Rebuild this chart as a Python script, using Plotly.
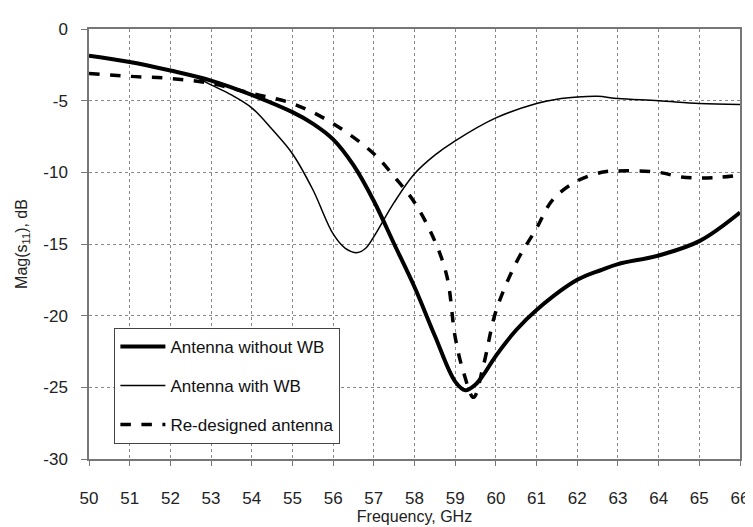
import plotly.graph_objects as go

# Antenna without WB (thick solid)
freq_a = [50, 51, 52, 53, 54, 55, 55.5, 56, 56.5, 57, 57.5, 58, 58.5, 59, 59.25, 59.5, 59.7, 60, 60.5, 61, 62, 62.6, 63, 64, 65, 66]
s11_a = [-1.86, -2.3, -2.9, -3.6, -4.6, -5.8, -6.6, -7.7, -9.5, -12.0, -15.0, -18.0, -21.4, -24.6, -25.2, -24.8, -24.1, -22.8, -21.0, -19.6, -17.5, -16.8, -16.4, -15.8, -14.8, -12.8]

# Antenna with WB (thin)
freq_b = [50, 51, 52, 52.5, 53, 53.5, 54, 54.5, 55, 55.5, 56, 56.3, 56.6, 56.8, 57, 57.5, 58, 58.5, 59, 60, 61, 61.5, 62, 62.5, 63, 64, 65, 66]
s11_b = [-1.86, -2.3, -2.9, -3.2, -3.9, -4.6, -5.5, -7.0, -8.7, -11.2, -14.3, -15.3, -15.6, -15.3, -14.5, -12.1, -10.1, -8.8, -7.8, -6.2, -5.2, -4.9, -4.75, -4.7, -4.85, -5.0, -5.2, -5.27]

# Re-designed antenna (dashed)
freq_c = [50, 51, 52, 53, 54, 55, 56, 57, 57.5, 58, 58.5, 58.8, 59, 59.2, 59.45, 59.7, 60, 60.5, 61, 61.4, 62, 62.6, 63, 64, 64.5, 65, 65.5, 66]
s11_c = [-3.1, -3.3, -3.45, -3.8, -4.5, -5.2, -6.6, -8.7, -10.3, -12.1, -14.8, -17.3, -21.5, -23.9, -25.7, -23.4, -19.7, -16.3, -13.9, -11.9, -10.6, -10.0, -9.9, -10.0, -10.3, -10.4, -10.35, -10.2]

x_ticks = list(range(50, 67))
y_ticks = [0, -5, -10, -15, -20, -25, -30]

font = "Liberation Sans, Arial, sans-serif"

fig = go.Figure()
fig.add_trace(go.Scatter(x=freq_a, y=s11_a, mode="lines", name="Antenna without WB",
                         legendgroup="a",
                         line=dict(color="black", width=4, shape="spline")))
fig.add_trace(go.Scatter(x=freq_b, y=s11_b, mode="lines", name="Antenna with WB",
                         legendgroup="b",
                         line=dict(color="black", width=1.5, shape="spline")))
fig.add_trace(go.Scatter(x=freq_c, y=s11_c, mode="lines", name="Re-designed antenna",
                         legendgroup="c",
                         line=dict(color="black", width=3.5, dash="dash", shape="spline")))

fig.update_layout(
    width=753, height=527,
    margin=dict(l=81, r=13, t=16, b=71),
    paper_bgcolor="white", plot_bgcolor="white",
    font=dict(family=font, size=17, color="#222"),
    showlegend=True,
    legend=dict(x=0.039, y=0.305, xanchor="left", yanchor="top",
                bgcolor="white", bordercolor="#444", borderwidth=1,
                font=dict(size=17, color="#111"), tracegroupgap=14,
                itemwidth=45),
    xaxis=dict(range=[50, 66], tickvals=x_ticks, ticktext=[str(v) for v in x_ticks],
               showgrid=True, gridcolor="#888", griddash="dot", gridwidth=1,
               showline=True, linecolor="#777", linewidth=1.5, mirror=True,
               ticks="outside", ticklen=5, tickcolor="#777", ticklabelstandoff=18,
               zeroline=False,
               title=dict(text="Frequency, GHz", font=dict(size=16), standoff=4)),
    yaxis=dict(range=[-30, 0], tickvals=y_ticks, ticktext=[str(v) for v in y_ticks],
               showgrid=True, gridcolor="#888", griddash="dot", gridwidth=1,
               showline=True, linecolor="#777", linewidth=1.5, mirror=True,
               ticks="outside", ticklen=6, tickcolor="#777", ticklabelstandoff=10,
               zeroline=False,
               title=dict(text="Mag(s<sub>11</sub>), dB", font=dict(size=16), standoff=12)),
)

fig.write_html("out.html")
